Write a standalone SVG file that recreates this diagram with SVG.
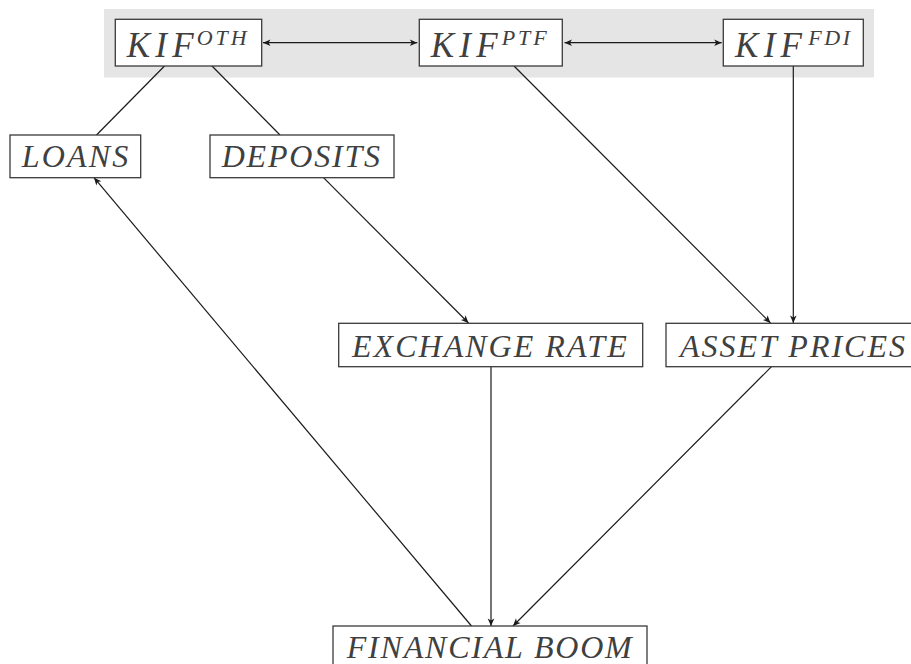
<svg xmlns="http://www.w3.org/2000/svg" width="911" height="664" viewBox="0 0 911 664">
<defs>
<style>
.box{fill:#fff;stroke:#3a3a3a;stroke-width:1.3}
.lbl{font-family:"Liberation Serif","DejaVu Serif",serif;font-style:italic;fill:#404040;font-size:32px}
.top{font-size:35px}
.sup{font-size:22px}
.edge{stroke:#1a1a1a;stroke-width:1.2;fill:none}
</style>
<marker id="ah" viewBox="-8 -4 9 8" refX="0" refY="0" markerWidth="9" markerHeight="8" markerUnits="userSpaceOnUse" orient="auto-start-reverse">
<path d="M0,0 L-7.5,-3.3 L-5.5,0 L-7.5,3.3 Z" fill="#1a1a1a"/>
</marker>
</defs>
<rect width="911" height="664" fill="#fff"/>
<rect id="band" x="104" y="9" width="770" height="68.5" fill="#e5e5e5"/>
<g id="connectors">
<line class="edge" x1="263" y1="42.7" x2="417.3" y2="42.7" marker-start="url(#ah)" marker-end="url(#ah)"/>
<line class="edge" x1="564.5" y1="42.7" x2="721.7" y2="42.7" marker-start="url(#ah)" marker-end="url(#ah)"/>
<line class="edge" x1="164.5" y1="66" x2="96.5" y2="135"/>
<line class="edge" x1="212" y1="66" x2="280" y2="135"/>
<line class="edge" x1="323.5" y1="177.7" x2="468.5" y2="323" marker-end="url(#ah)"/>
<line class="edge" x1="514" y1="66" x2="770.5" y2="323" marker-end="url(#ah)"/>
<line class="edge" x1="793.3" y1="66" x2="793.3" y2="323" marker-end="url(#ah)"/>
<line class="edge" x1="491" y1="366.7" x2="491" y2="626" marker-end="url(#ah)"/>
<line class="edge" x1="771.5" y1="366.7" x2="513" y2="626" marker-end="url(#ah)"/>
<line class="edge" x1="471.5" y1="626" x2="94" y2="177.7" marker-end="url(#ah)"/>
</g>
<g id="kif-oth">
<rect class="box" x="115.3" y="19.3" width="146.4" height="46.7"/>
<text class="lbl top"><tspan x="126.7" y="56.7" textLength="67" lengthAdjust="spacing">KIF</tspan><tspan class="sup" x="196.7" y="45" textLength="50" lengthAdjust="spacing">OTH</tspan></text>
</g>
<g id="kif-ptf">
<rect class="box" x="419.3" y="19.3" width="143" height="46.7"/>
<text class="lbl top"><tspan x="430.7" y="56.7" textLength="67" lengthAdjust="spacing">KIF</tspan><tspan class="sup" x="501.7" y="45" textLength="45" lengthAdjust="spacing">PTF</tspan></text>
</g>
<g id="kif-fdi">
<rect class="box" x="723.3" y="19.3" width="140" height="46.7"/>
<text class="lbl top"><tspan x="735" y="56.7" textLength="67" lengthAdjust="spacing">KIF</tspan><tspan class="sup" x="808.3" y="45" textLength="41.7" lengthAdjust="spacing">FDI</tspan></text>
</g>
<g id="loans">
<rect class="box" x="10" y="135" width="130.7" height="42.7"/>
<text class="lbl" x="21.7" y="166.7" textLength="106.6" lengthAdjust="spacing">LOANS</text>
</g>
<g id="deposits">
<rect class="box" x="210" y="135" width="184" height="42.7"/>
<text class="lbl" x="221.7" y="166.7" textLength="158.3" lengthAdjust="spacing">DEPOSITS</text>
</g>
<g id="exchange-rate">
<rect class="box" x="338.7" y="323.3" width="304" height="43.4"/>
<text class="lbl" x="352" y="356.5" textLength="274.7" lengthAdjust="spacing">EXCHANGE RATE</text>
</g>
<g id="asset-prices">
<rect class="box" x="666" y="323.3" width="254" height="43.4"/>
<text class="lbl" x="680" y="356.5" textLength="225" lengthAdjust="spacing">ASSET PRICES</text>
</g>
<g id="financial-boom">
<rect class="box" x="333" y="626" width="314" height="43"/>
<text class="lbl" x="346.7" y="658" textLength="285" lengthAdjust="spacing">FINANCIAL BOOM</text>
</g>
</svg>
